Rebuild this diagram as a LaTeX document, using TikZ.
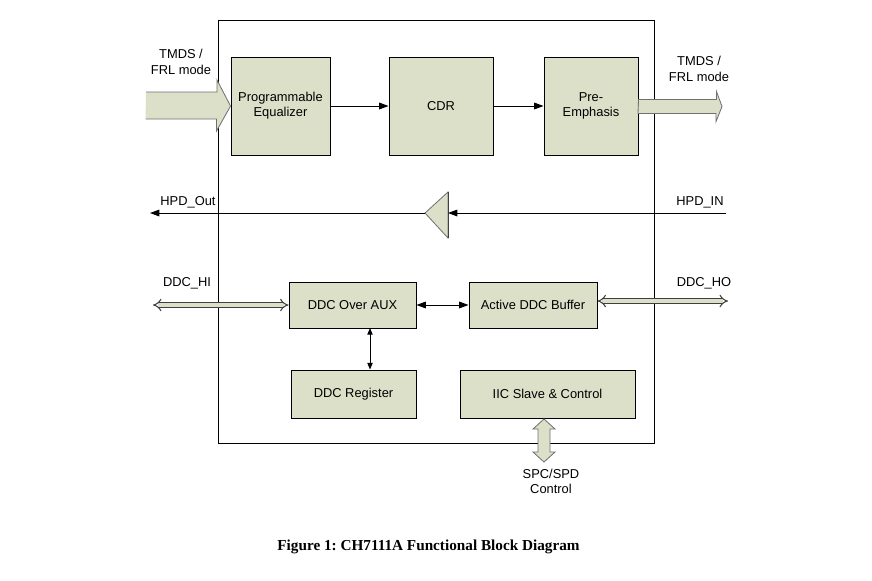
\documentclass[tikz,border=0pt]{standalone}
\usepackage{fontspec}
\setmainfont{Liberation Sans}
\newfontfamily\capfont{Liberation Serif}
\usetikzlibrary{arrows.meta, positioning, calc}
\definecolor{blkfill}{HTML}{DDE0C9}
\definecolor{edgegray}{HTML}{707070}
\definecolor{busedge}{HTML}{404040}
\definecolor{inkblack}{HTML}{000000}

\tikzset{
  blockbox/.style={draw=inkblack, line width=0.8pt, fill=blkfill, align=center,
    inner sep=2pt, font=\fontsize{11}{13}\selectfont},
  sig/.style={draw=inkblack, line width=0.8pt},
  lbl/.style={align=center, inner sep=0pt, font=\fontsize{11}{13}\selectfont},
  fatarrow/.style={draw=edgegray, line width=0.7pt, fill=blkfill, line join=miter},
  busline/.style={draw=busedge, line width=0.9pt, double=blkfill, double distance=2.8pt},
}

\begin{document}
\frenchspacing
\begin{tikzpicture}[x=0.03cm, y=-0.03cm, >={Triangle[length=2.8mm, width=2mm]}]

% Page frame
\useasboundingbox (0,0) rectangle (872,580);
\fill[white] (0,0) rectangle (872,580);

% Chip outline
\draw[sig] (218,20) rectangle (654,443);

% === Video path ===
\node[blockbox, minimum width=2.97cm, minimum height=2.94cm] (eq) at (280.5,106) {Programmable\\Equalizer};
\node[blockbox, minimum width=3.12cm, minimum height=2.94cm] (cdr) at (441,106) {CDR};
\node[blockbox, minimum width=2.82cm, minimum height=2.94cm] (pre) at (591,106) {Pre-\\Emphasis};

\draw[sig, ->] (eq.east) -- (cdr.west);
\draw[sig, ->] (cdr.east) -- (pre.west);

% Input fat arrow
\coordinate (tmdsin) at (146,105);
\fill[blkfill] (tmdsin) ++(0,-13) -- ++(71,0) -- ++(0,-12) -- (eq.west) -- ++(-14,25) -- ++(0,-12) -- ++(-71,0) -- cycle;
\draw[edgegray, line width=0.7pt] (tmdsin) ++(0,-13) -- ++(71,0) -- ++(0,-12) -- (eq.west) -- ++(-14,25) -- ++(0,-12) -- ++(-71,0);
\node[lbl] (tmdsinlbl) at (181,62) {TMDS /\\FRL mode};

% Output fat arrow
\coordinate (tmdsout) at (722,106.5);
\draw[fatarrow] (pre.east) ++(0,-6.5) -- ++(78,0) -- ++(0,-8) -- (tmdsout) -- ++(-6,15) -- ++(0,-8) -- ++(-78,0) -- cycle;
\node[lbl] (tmdsoutlbl) at (699,69) {TMDS /\\FRL mode};

% === HPD path ===
\coordinate (hpdtip) at (425,213);
\coordinate (hpdback) at (448,213);
\coordinate (hpdin) at (726,213);
\coordinate (hpdout) at (150,213);
\draw[fill=blkfill, draw=edgegray, line width=0.7pt] (hpdtip) -- (448,192) -- (448,238) -- cycle;
\draw[busedge, line width=0.8pt] (448,192) -- (448,238);
\draw[sig, ->] (hpdin) -- (hpdback);
\draw[sig, ->] (hpdtip) -- (hpdout);
\node[lbl] (hpdoutlbl) at (188,202) {HPD\_Out};
\node[lbl] (hpdinlbl) at (700,202) {HPD\_IN};

% === DDC path ===
\node[blockbox, minimum width=3.81cm, minimum height=1.38cm] (aux) at (352.5,305) {DDC Over AUX};
\node[blockbox, minimum width=3.84cm, minimum height=1.38cm] (buf) at (533,305) {Active DDC Buffer};
\node[blockbox, minimum width=3.75cm, minimum height=1.44cm] (reg) at (353.5,394) {DDC Register};
\node[blockbox, minimum width=5.25cm, minimum height=1.44cm] (iic) at (547.5,394) {IIC Slave \& Control};

\draw[sig, <->] (aux.east) -- (buf.west);
\coordinate (auxreg) at (370,328);
\draw[sig, {Triangle[length=2mm, width=1.6mm]}-{Triangle[length=2mm, width=1.6mm]}] (auxreg) -- (auxreg |- reg.north);

\coordinate (ddchi) at (153,305);
\coordinate (ddcho) at (728,301);
\draw[busline, {Implies}-{Implies}] (ddchi) -- (aux.west);
\draw[busline, {Implies}-{Implies}] (buf.east |- ddcho) -- (ddcho);
\node[lbl] (ddchilbl) at (187,283) {DDC\_HI};
\node[lbl] (ddcholbl) at (704,283) {DDC\_HO};

% SPC/SPD fat double arrow
\coordinate (spctop) at (544,419);
\coordinate (spcbot) at (544,462);
\draw[fatarrow] (spctop) -- ++(11,10) -- ++(-5,0) -- ++(0,23) -- ++(5,0) -- (spcbot)
  -- ++(-11,-10) -- ++(5,0) -- ++(0,-23) -- ++(-5,0) -- cycle;
\node[lbl] (spclbl) at (551,481) {SPC/SPD\\Control};

% Caption
\node[inner sep=0pt, font=\capfont\bfseries\fontsize{13}{15}\selectfont] (caption) at (428.5,547) {Figure 1: CH7111A Functional Block Diagram};

\end{tikzpicture}
\end{document}
